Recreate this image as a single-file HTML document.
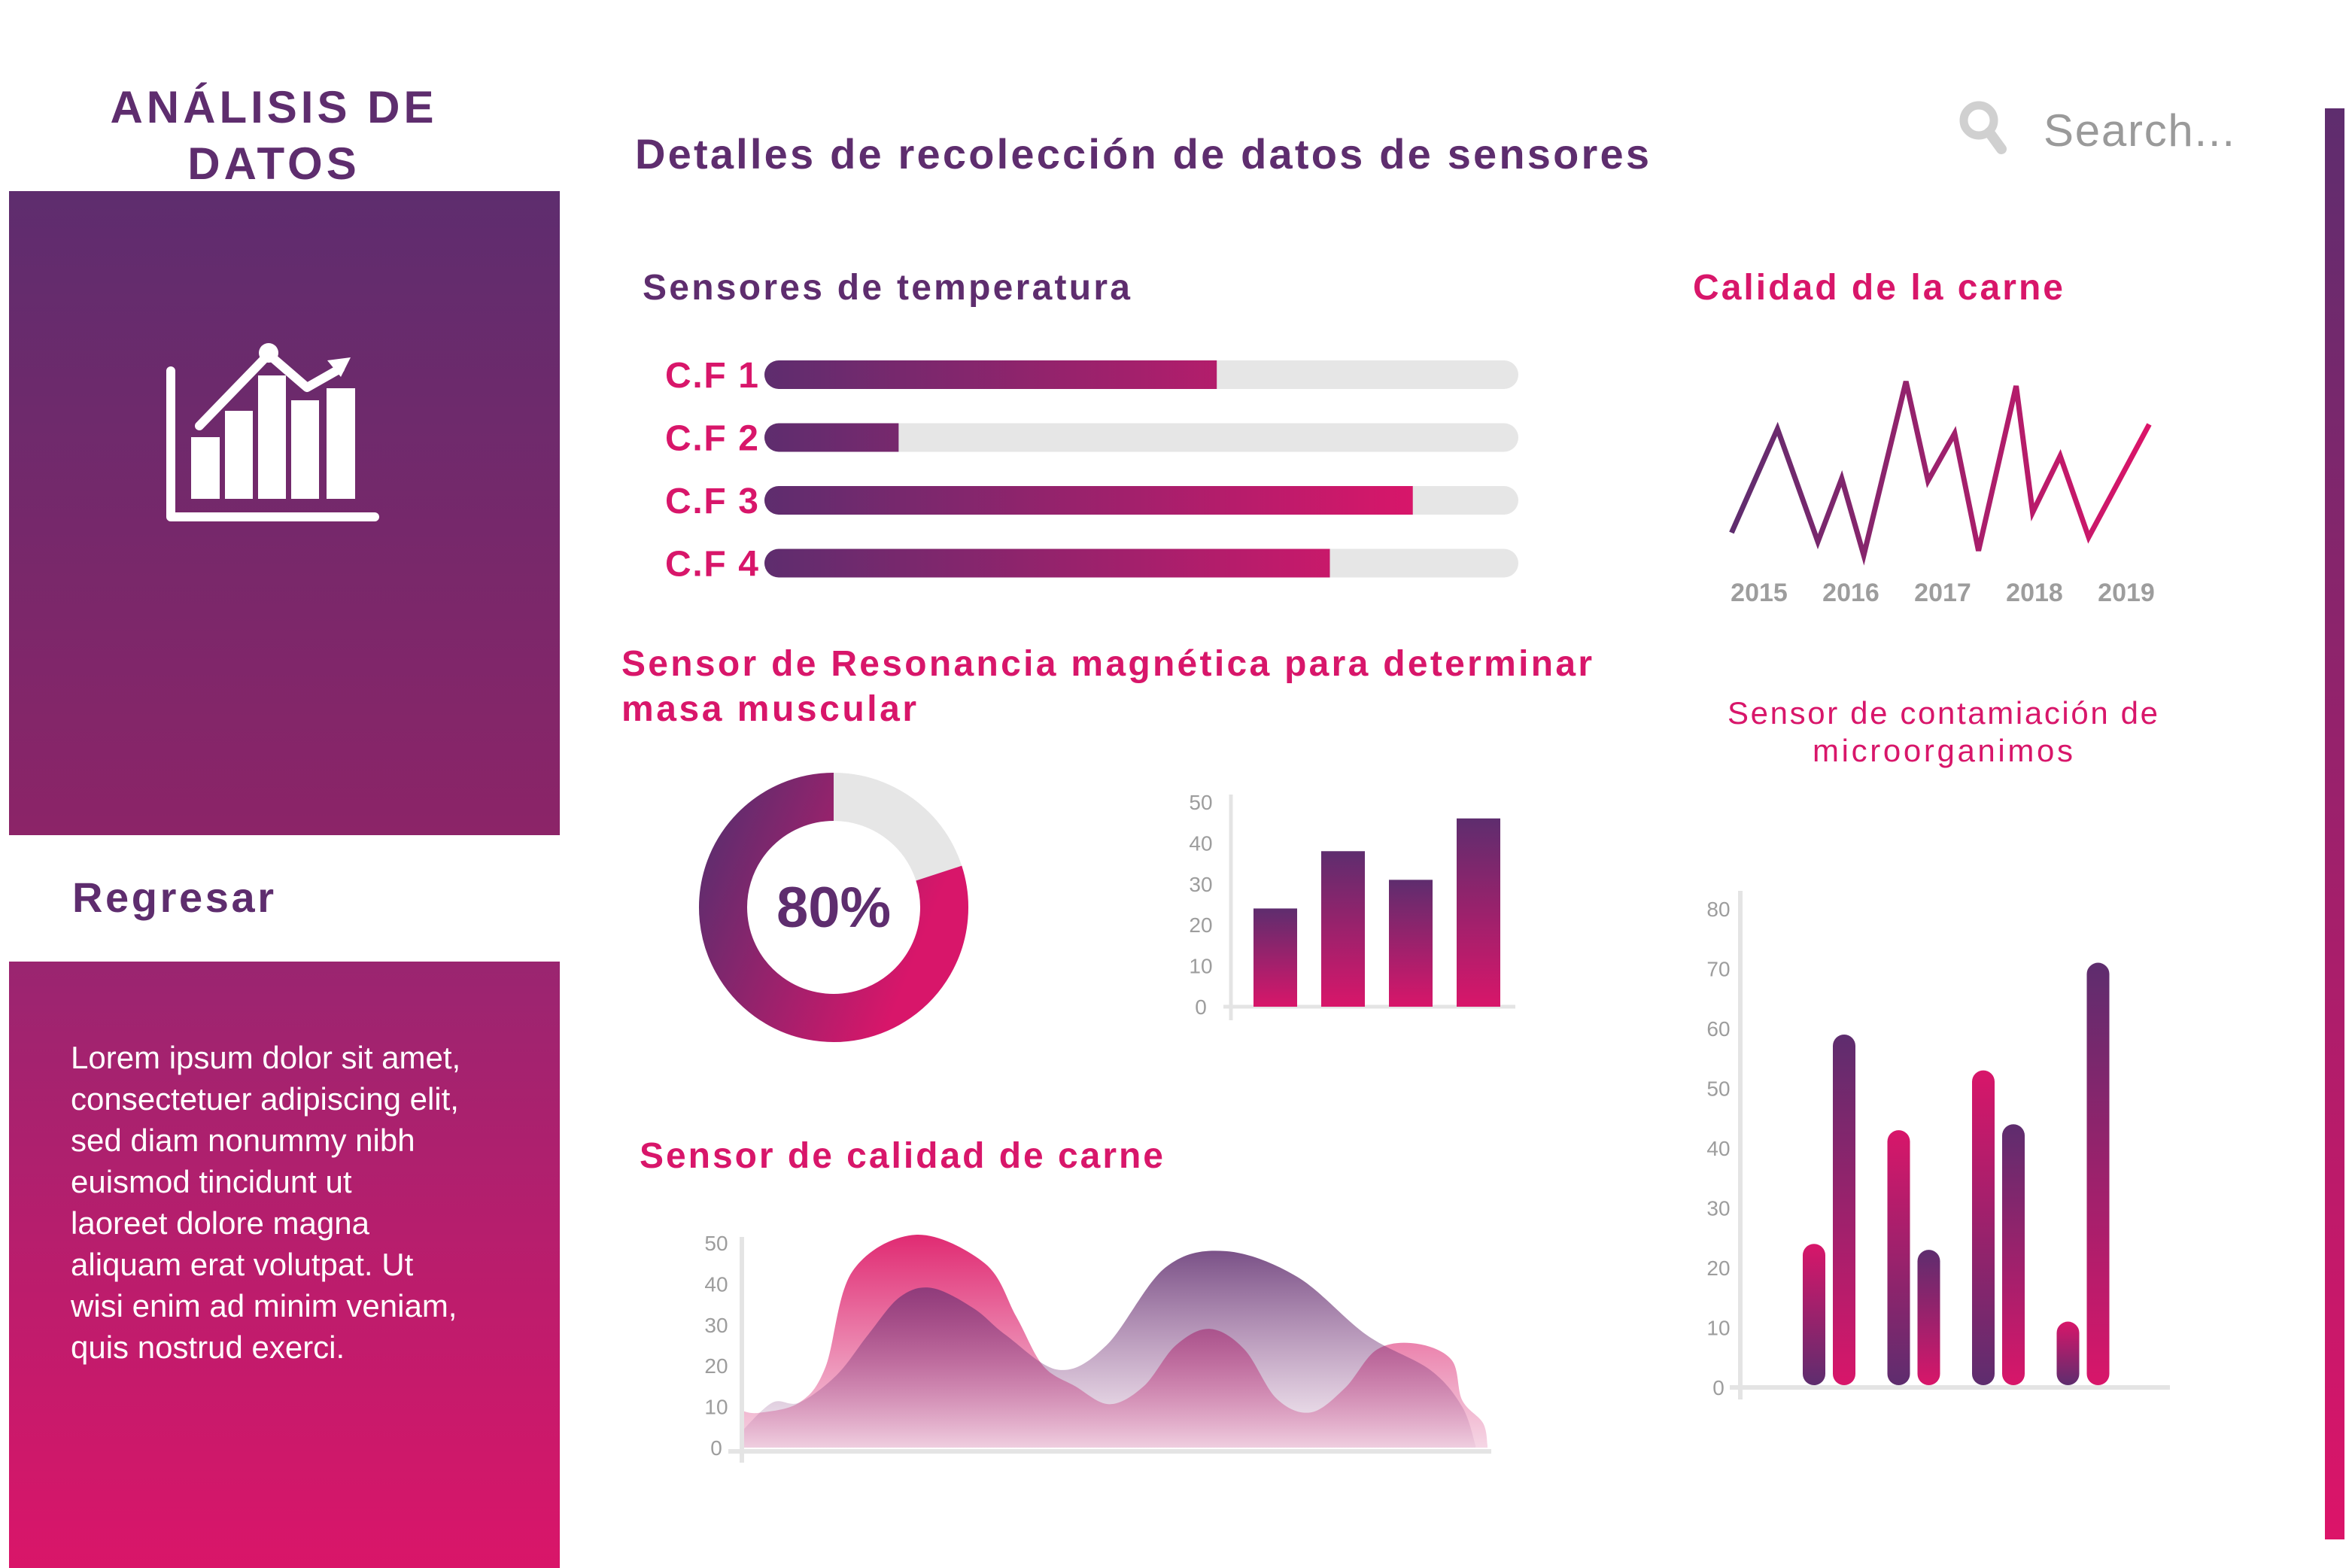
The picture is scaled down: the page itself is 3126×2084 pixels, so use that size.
<!DOCTYPE html>
<html><head><meta charset="utf-8"><style>
html,body{margin:0;padding:0;background:#fff;overflow:hidden;}
svg{display:block;}
text{font-family:"Liberation Sans",sans-serif;}
</style></head><body>
<svg id="page" width="3126" height="2084" viewBox="0 0 3126 2084" xmlns="http://www.w3.org/2000/svg">
<defs>
<linearGradient id="gPanelTop" x1="0" y1="0" x2="0" y2="1"><stop offset="0" stop-color="#5e2d6e"/><stop offset="1" stop-color="#8c2468"/></linearGradient>
<linearGradient id="gPanelBot" x1="0" y1="0" x2="0" y2="1"><stop offset="0" stop-color="#9a2570"/><stop offset="1" stop-color="#da1569"/></linearGradient>
<linearGradient id="gSide" x1="0" y1="0" x2="0" y2="1"><stop offset="0" stop-color="#5e2d6e"/><stop offset="1" stop-color="#dc1469"/></linearGradient>
<linearGradient id="gProg" gradientUnits="userSpaceOnUse" x1="1016" y1="0" x2="1880" y2="0"><stop offset="0" stop-color="#5e2d6e"/><stop offset="1" stop-color="#d8166a"/></linearGradient>
<linearGradient id="gLine" gradientUnits="userSpaceOnUse" x1="2300" y1="0" x2="2860" y2="0"><stop offset="0" stop-color="#5e2d6e"/><stop offset="1" stop-color="#dc1469"/></linearGradient>
<linearGradient id="gDonut" x1="0" y1="0" x2="1" y2="0.4"><stop offset="0" stop-color="#5e2d6e"/><stop offset="1" stop-color="#d8166a"/></linearGradient>
<linearGradient id="gBarPP" x1="0" y1="0" x2="0" y2="1"><stop offset="0" stop-color="#5e2d6e"/><stop offset="1" stop-color="#d8166a"/></linearGradient>
<linearGradient id="gBarKP" x1="0" y1="0" x2="0" y2="1"><stop offset="0" stop-color="#d8166a"/><stop offset="1" stop-color="#5e2d6e"/></linearGradient>
<linearGradient id="gAreaA" gradientUnits="userSpaceOnUse" x1="0" y1="1640" x2="0" y2="1930"><stop offset="0" stop-color="#e02a72"/><stop offset="1" stop-color="#f6dbe8"/></linearGradient>
<linearGradient id="gAreaB" gradientUnits="userSpaceOnUse" x1="0" y1="1660" x2="0" y2="1930"><stop offset="0" stop-color="#5e2d6e" stop-opacity="0.98"/><stop offset="1" stop-color="#8a3a80" stop-opacity="0.05"/></linearGradient>
</defs>

<text x="364" y="163" text-anchor="middle" font-size="60" font-weight="bold" fill="#5e2d6e" letter-spacing="5">ANÁLISIS DE</text>
<text x="364" y="238" text-anchor="middle" font-size="60" font-weight="bold" fill="#5e2d6e" letter-spacing="5">DATOS</text>
<rect x="12" y="254" width="732" height="856" fill="url(#gPanelTop)"/>
<g fill="#fff" stroke="#fff">
<path d="M227 493 V687 H498" fill="none" stroke-width="12" stroke-linecap="round" stroke-linejoin="round"/>
<rect x="254" y="581" width="38" height="82" stroke="none"/>
<rect x="299" y="546" width="37" height="117" stroke="none"/>
<rect x="343" y="499" width="37" height="164" stroke="none"/>
<rect x="387" y="532" width="37" height="131" stroke="none"/>
<rect x="434" y="516" width="38" height="147" stroke="none"/>
<path d="M265 566 L357 471 L408 515 L452 490" fill="none" stroke-width="12" stroke-linecap="round" stroke-linejoin="round"/>
<circle cx="357" cy="469" r="13" stroke="none"/>
<path d="M466 475 L435 479 L453 501 Z" stroke="none"/>
</g>
<text x="96" y="1212" font-size="56" font-weight="bold" fill="#5e2d6e" textLength="268">Regresar</text>
<rect x="12" y="1278" width="732" height="812" fill="url(#gPanelBot)"/>
<g fill="#fff" font-size="42">
<text x="94" y="1420">Lorem ipsum dolor sit amet,</text>
<text x="94" y="1475">consectetuer adipiscing elit,</text>
<text x="94" y="1530">sed diam nonummy nibh</text>
<text x="94" y="1585">euismod tincidunt ut</text>
<text x="94" y="1640">laoreet dolore magna</text>
<text x="94" y="1695">aliquam erat volutpat. Ut</text>
<text x="94" y="1750">wisi enim ad minim veniam,</text>
<text x="94" y="1805">quis nostrud exerci.</text>
</g>

<text x="844" y="224" font-size="56" font-weight="bold" fill="#5e2d6e" textLength="1348">Detalles de recolección de datos de sensores</text>
<g>
<g>
<circle cx="2630" cy="160" r="20" fill="none" stroke="#d0d0d0" stroke-width="11"/>
<path d="M2644 176 L2660 198" stroke="#d0d0d0" stroke-width="14" stroke-linecap="round"/>
</g>
<text x="2716" y="194" font-size="60" fill="#9a9a9a" textLength="254">Search...</text>
</g>
<rect x="3090" y="144" width="26" height="1902" fill="url(#gSide)"/>

<text x="854" y="398" font-size="48" font-weight="bold" fill="#5e2d6e" textLength="648">Sensores de temperatura</text>
<text x="2250" y="398" font-size="48" font-weight="bold" fill="#d8166a" textLength="492">Calidad de la carne</text>
<text x="826" y="898" font-size="48" font-weight="bold" fill="#d8166a" textLength="1290">Sensor de Resonancia magnética para determinar</text>
<text x="826" y="958" font-size="48" font-weight="bold" fill="#d8166a" textLength="392">masa muscular</text>
<text x="850" y="1552" font-size="48" font-weight="bold" fill="#d8166a" textLength="696">Sensor de calidad de carne</text>
<text x="2582" y="962" text-anchor="middle" font-size="42" fill="#d8166a" textLength="572">Sensor de contamiación de</text>
<text x="2582" y="1012" text-anchor="middle" font-size="42" fill="#d8166a" textLength="346">microorganimos</text>

<g id="progress"></g>
<g id="lineChart"></g>
<g id="donut"></g>
<g id="midBars"></g>
<g id="areaChart"></g>
<g id="rightBars"></g>
</svg>
<script>
const progLabels = ["C.F 1","C.F 2","C.F 3","C.F 4"];
const progValues = [60, 17.8, 86, 75];

const lineYears = [2014.70,2015.20,2015.64,2015.90,2016.14,2016.60,2016.84,2017.13,2017.39,2017.80,2017.98,2018.28,2018.59,2019.25];
const lineValues = [24,70,20,48,14,91,47,68,16,89,33,58,22,72];
const lineTicks = ["2015","2016","2017","2018","2019"];

const donutValue = 80;

const midCats = ["A","B","C","D"];
const midValues = [24,38,31,46];
const midTicks = [0,10,20,30,40,50];

const areaTA = [0,2.3,7.7,11.2,14.8,23.3,32.6,36.8,40.4,44.7,49.3,53.9,58.2,62.8,67.4,71.7,76.3,80.9,85.2,90.5,95.2,96.6,99.4,100];
const areaA = [9,8.5,11,19.6,43,52,45,32,20,15,10.6,15,25,29,24,12,8.6,14.6,24,25.4,21.4,11.6,6,0.5];
const areaTB = [0,4.1,7.7,12.7,16.9,21.2,25.5,31.1,35.4,42.5,48.9,56.8,64.9,74.5,83.8,92.3,96.6,98.4];
const areaB = [4,11,11,17.7,27.5,36.8,39,34,27.5,19,25,44,48,41.7,27.5,19,10,0.5];
const areaTicks = [0,10,20,30,40,50];

const rightGroups = ["G1","G2","G3","G4"];
const rightSeriesA = [24,43,53,11];
const rightSeriesB = [59,23,44,71];
const rightTicks = [0,10,20,30,40,50,60,70,80];

const NS = "http://www.w3.org/2000/svg";
function mk(tag, parent, attrs) {
  const e = document.createElementNS(NS, tag);
  for (const k in attrs) e.setAttribute(k, attrs[k]);
  parent.appendChild(e);
  return e;
}
function smooth(pts) {
  let d = "M" + pts[0][0] + " " + pts[0][1];
  for (let i = 0; i < pts.length - 1; i++) {
    const p0 = pts[Math.max(0, i - 1)], p1 = pts[i], p2 = pts[i + 1], p3 = pts[Math.min(pts.length - 1, i + 2)];
    const c1x = p1[0] + (p2[0] - p0[0]) / 6, c1y = p1[1] + (p2[1] - p0[1]) / 6;
    const c2x = p2[0] - (p3[0] - p1[0]) / 6, c2y = p2[1] - (p3[1] - p1[1]) / 6;
    d += " C" + c1x + " " + c1y + " " + c2x + " " + c2y + " " + p2[0] + " " + p2[1];
  }
  return d;
}

(function(){
  const g = document.getElementById("progress");
  const x0 = 1016, x1 = 2018, h = 38, r = 19;
  const rowY = i => 498 + i * 83.5;
  const xs = v => x0 + (x1 - x0) * v / 100;
  progLabels.forEach((lab, i) => {
    const cy = rowY(i);
    const t = mk("text", g, {x: 884, y: cy + 17, "font-size": 48, "font-weight": "bold", fill: "#d8166a", textLength: 124});
    t.textContent = lab;
    
    
    const tr = mk("rect", g, {x: x0, y: cy - h/2, width: x1 - x0, height: h, rx: r, fill: "#e6e6e6"});
    
    
    const w = xs(progValues[i]) - x0;
    const f1 = mk("rect", g, {x: x0, y: cy - h/2, width: Math.min(w, 2*r), height: h, rx: r, fill: "url(#gProg)"});
    
    
    const f2 = mk("rect", g, {x: x0 + r, y: cy - h/2, width: Math.max(0, w - r), height: h, fill: "url(#gProg)"});
    
    
  });
})();

(function(){
  const g = document.getElementById("lineChart");
  const xs = yr => 2338 + (yr - 2015) * 122;
  const ys = v => 780 - 3 * v;
  const pts = lineYears.map((yr, i) => xs(yr) + "," + ys(lineValues[i]));
  const pl = mk("polyline", g, {points: pts.join(" "), fill: "none", stroke: "url(#gLine)", "stroke-width": 7, "stroke-linejoin": "miter"});
  
  
  lineTicks.forEach(lab => {
    const t = mk("text", g, {x: xs(+lab), y: 799, "text-anchor": "middle", "font-size": 34, "font-weight": "bold", fill: "#9d9d9d"});
    t.textContent = lab;
    
    
  });
})();

(function(){
  const g = document.getElementById("donut");
  const cx = 1108, cy = 1206, R = 147, w = 64;
  const bg = mk("circle", g, {cx, cy, r: R, fill: "none", stroke: "#e6e6e6", "stroke-width": w});
  
  
  const startA = (100 - donutValue) / 100 * 2 * Math.PI;
  const pt = a => [cx + R * Math.sin(a), cy - R * Math.cos(a)];
  const p0 = pt(startA), p1 = pt(2 * Math.PI - 0.0001);
  const large = donutValue > 50 ? 1 : 0;
  const arc = mk("path", g, {d: `M${p0[0]} ${p0[1]} A${R} ${R} 0 ${large} 1 ${p1[0]} ${p1[1]}`, fill: "none", stroke: "url(#gDonut)", "stroke-width": w});
  
  
  const t = mk("text", g, {x: cx, y: cy + 26, "text-anchor": "middle", "font-size": 76, "font-weight": "bold", fill: "#5e2d6e"});
  t.textContent = donutValue + "%";
  
  
})();

(function(){
  const g = document.getElementById("midBars");
  const y0 = 1338, k = 5.44;
  const ys = v => y0 - v * k;
  const xs = i => 1695 + i * 90;
  const ax = mk("path", g, {d: "M1636 1056 V1356 M1626 1338 H2014", stroke: "#e4e4e4", "stroke-width": 5, fill: "none"});
  
  
  midTicks.forEach(v => {
    const t = mk("text", g, {x: 1596, y: ys(v) + 10, "text-anchor": "middle", "font-size": 28, fill: "#9d9d9d"});
    t.textContent = v;
    
    
  });
  midCats.forEach((c, i) => {
    const b = mk("rect", g, {x: xs(i) - 29, y: ys(midValues[i]), width: 58, height: y0 - ys(midValues[i]), fill: "url(#gBarPP)"});
    
    
  });
})();

(function(){
  const g = document.getElementById("areaChart");
  const xs = t => 986 + t * 9.91;
  const y0 = 1924, k = 5.44;
  const ys = v => y0 - v * k;
  function area(ts, vs, fill, op, name) {
    const pts = ts.map((t, i) => [xs(t), ys(vs[i])]);
    const d = "M" + xs(ts[0]) + " " + y0 + " L" + smooth(pts).slice(1) + " L" + xs(ts[ts.length-1]) + " " + y0 + " Z";
    const p = mk("path", g, {d, fill, opacity: op});
    
    
  }
  area(areaTA, areaA, "url(#gAreaA)", 1, "area-series-a");
  area(areaTB, areaB, "url(#gAreaB)", 0.85, "area-series-b");
  const ax = mk("path", g, {d: "M986 1644 V1944 M968 1929 H1982", stroke: "#e4e4e4", "stroke-width": 6, fill: "none"});
  
  
  areaTicks.forEach(v => {
    const t = mk("text", g, {x: 952, y: ys(v) + 10, "text-anchor": "middle", "font-size": 28, fill: "#9d9d9d"});
    t.textContent = v;
    
    
  });
})();

(function(){
  const g = document.getElementById("rightBars");
  const y0 = 1844, k = 7.95;
  const ys = v => y0 - v * k;
  const xs = i => 2431 + i * 112.5;
  const ax = mk("path", g, {d: "M2313 1184 V1860 M2299 1844 H2884", stroke: "#e4e4e4", "stroke-width": 6, fill: "none"});
  
  
  rightTicks.forEach(v => {
    const t = mk("text", g, {x: 2284, y: ys(v) + 10, "text-anchor": "middle", "font-size": 28, fill: "#9d9d9d"});
    t.textContent = v;
    
    
  });
  rightGroups.forEach((grp, i) => {
    const a = mk("rect", g, {x: xs(i) - 20 - 15, y: ys(rightSeriesA[i]), width: 30, height: y0 - ys(rightSeriesA[i]) - 3, rx: 15, fill: "url(#gBarKP)"});
    
    
    const b = mk("rect", g, {x: xs(i) + 20 - 15, y: ys(rightSeriesB[i]), width: 30, height: y0 - ys(rightSeriesB[i]) - 3, rx: 15, fill: "url(#gBarPP)"});
    
    
  });
})();
</script>
</body></html>
